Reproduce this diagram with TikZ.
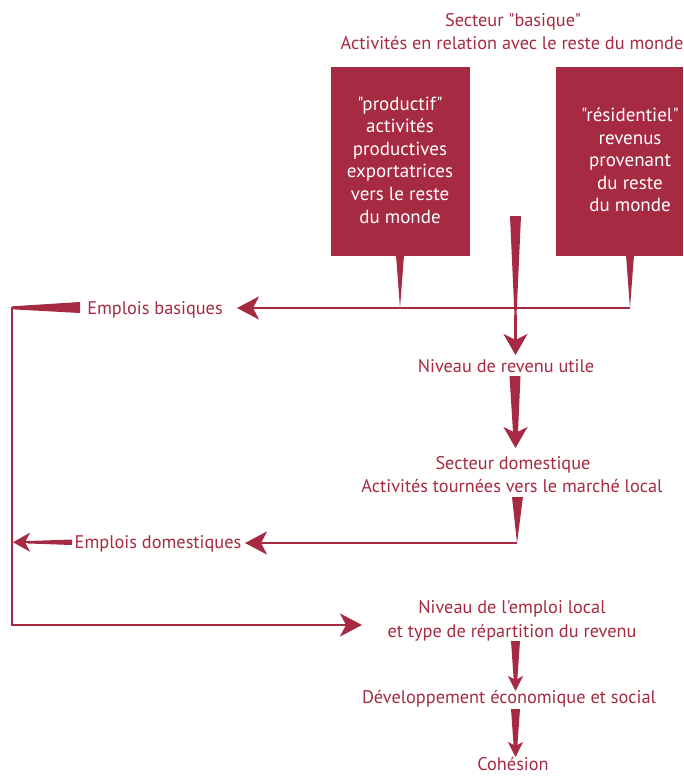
\documentclass[tikz,border=0pt]{standalone}
\usepackage{fontspec}
\setmainfont{PT Sans}[Ligatures=TeXOff]
\usetikzlibrary{arrows.meta}
\definecolor{dcol}{RGB}{165,42,66}
\begin{document}
\begin{tikzpicture}[x=1pt,y=-1pt,
  lbl/.style={text=dcol, font=\fontsize{18.3}{23}\selectfont, align=center, inner sep=0pt, anchor=base},
  boxtxt/.style={text=white, font=\fontsize{19}{22.6}\selectfont, align=center, inner sep=0pt},
  boxnode/.style={fill=dcol, draw=none, anchor=north west, inner sep=0pt},
  wedge/.style={fill=dcol, draw=none},
  line/.style={draw=dcol, line width=2.5pt},
  bigarr/.style={line, -{Stealth[length=22pt,width=23pt,inset=6pt]}},
  midarr/.style={line, -{Stealth[length=21pt,width=24pt,inset=6pt]}},
  smallarr/.style={line, -{Stealth[length=15pt,width=15pt,inset=4pt]}},
]
\useasboundingbox (0,0) rectangle (683,776);

% titles
\node[lbl] (t1) at (513,27) {Secteur "basique"};
\node[lbl] (t2) at (512,50) {Activités en relation avec le reste du monde};

% boxes
\node[boxnode, minimum width=139pt, minimum height=189pt] (prodbox) at (331,67) {};
\node[boxtxt] (prodtxt) at (400,160) {"productif"\\activités\\productives\\exportatrices\\vers le reste\\du monde};
\node[boxnode, minimum width=127pt, minimum height=189pt] (resbox) at (556,67) {};
\node[boxtxt] (restxt) at (630,160) {"résidentiel"\\revenus\\provenant\\du reste\\du monde};

% labels
\node[lbl] (basiques) at (155,314) {Emplois basiques};
\node[lbl] (revenu) at (506,372) {Niveau de revenu utile};
\node[lbl] (dom1) at (513,469) {Secteur domestique};
\node[lbl] (dom2) at (512,492) {Activités tournées vers le marché local};
\node[lbl] (empdom) at (158,548) {Emplois domestiques};
\node[lbl] (loc1) at (512,613) {Niveau de l'emploi local};
\node[lbl] (loc2) at (512,637) {et type de répartition du revenu};
\node[lbl] (dev) at (509,703) {Développement économique et social};
\node[lbl] (coh) at (513,770.5) {Cohésion};

% junction coordinates
\coordinate (jp) at (400,308);
\coordinate (jr) at (630,308);
\coordinate (jm) at (515.5,308);
\coordinate (jd) at (517,543);
\coordinate (lt) at (12,307);
\coordinate (lb) at (12,625);

% box tails
\fill[wedge] (396,255) -- (404,255) -- (jp) -- cycle;
\fill[wedge] (626,255) -- (634,255) -- (jr) -- cycle;

% top horizontal line to Emplois basiques
\draw[bigarr] (jr) -- (237,308);

% middle wedge down to revenu
\fill[wedge] (510,216) -- (521,216) -- (516.3,320) -- (514.7,320) -- cycle;
\draw[midarr] (515.5,315) -- (515.5,355);

% revenu -> secteur domestique
\fill[wedge] (509.5,376) -- (520.5,376) -- (518,432) -- (513,432) -- cycle;
\draw[midarr] (515.5,428) -- (515.5,448);

% domestique -> emplois domestiques
\fill[wedge] (512,497) -- (523,497) -- (jd) -- cycle;
\draw[bigarr] (jd) -- (245,543);

% emplois basiques left wedge and loop
\fill[wedge] (80,302) -- (80,313) -- (12,309.3) -- (12,306.3) -- cycle;
\draw[line] (lt) -- (lb);
\draw[bigarr] ([xshift=-1.25pt]lb) -- (362,625);

% emplois domestiques left arrow
\fill[wedge] (72,539.5) -- (72,545) -- (28,543.5) -- (28,541) -- cycle;
\draw[line, -{Stealth[length=17pt,width=19pt,inset=5pt]}] (32,542.2) -- (13,542.2);

% local -> developpement
\fill[wedge] (511,641) -- (520,641) -- (517.3,680) -- (513.7,680) -- cycle;
\draw[smallarr] (515.5,676) -- (515.5,691);

% developpement -> cohesion
\fill[wedge] (511,709) -- (520,709) -- (517.3,747) -- (513.7,747) -- cycle;
\draw[smallarr] (515.5,743) -- (515.5,757);
\end{tikzpicture}
\end{document}
